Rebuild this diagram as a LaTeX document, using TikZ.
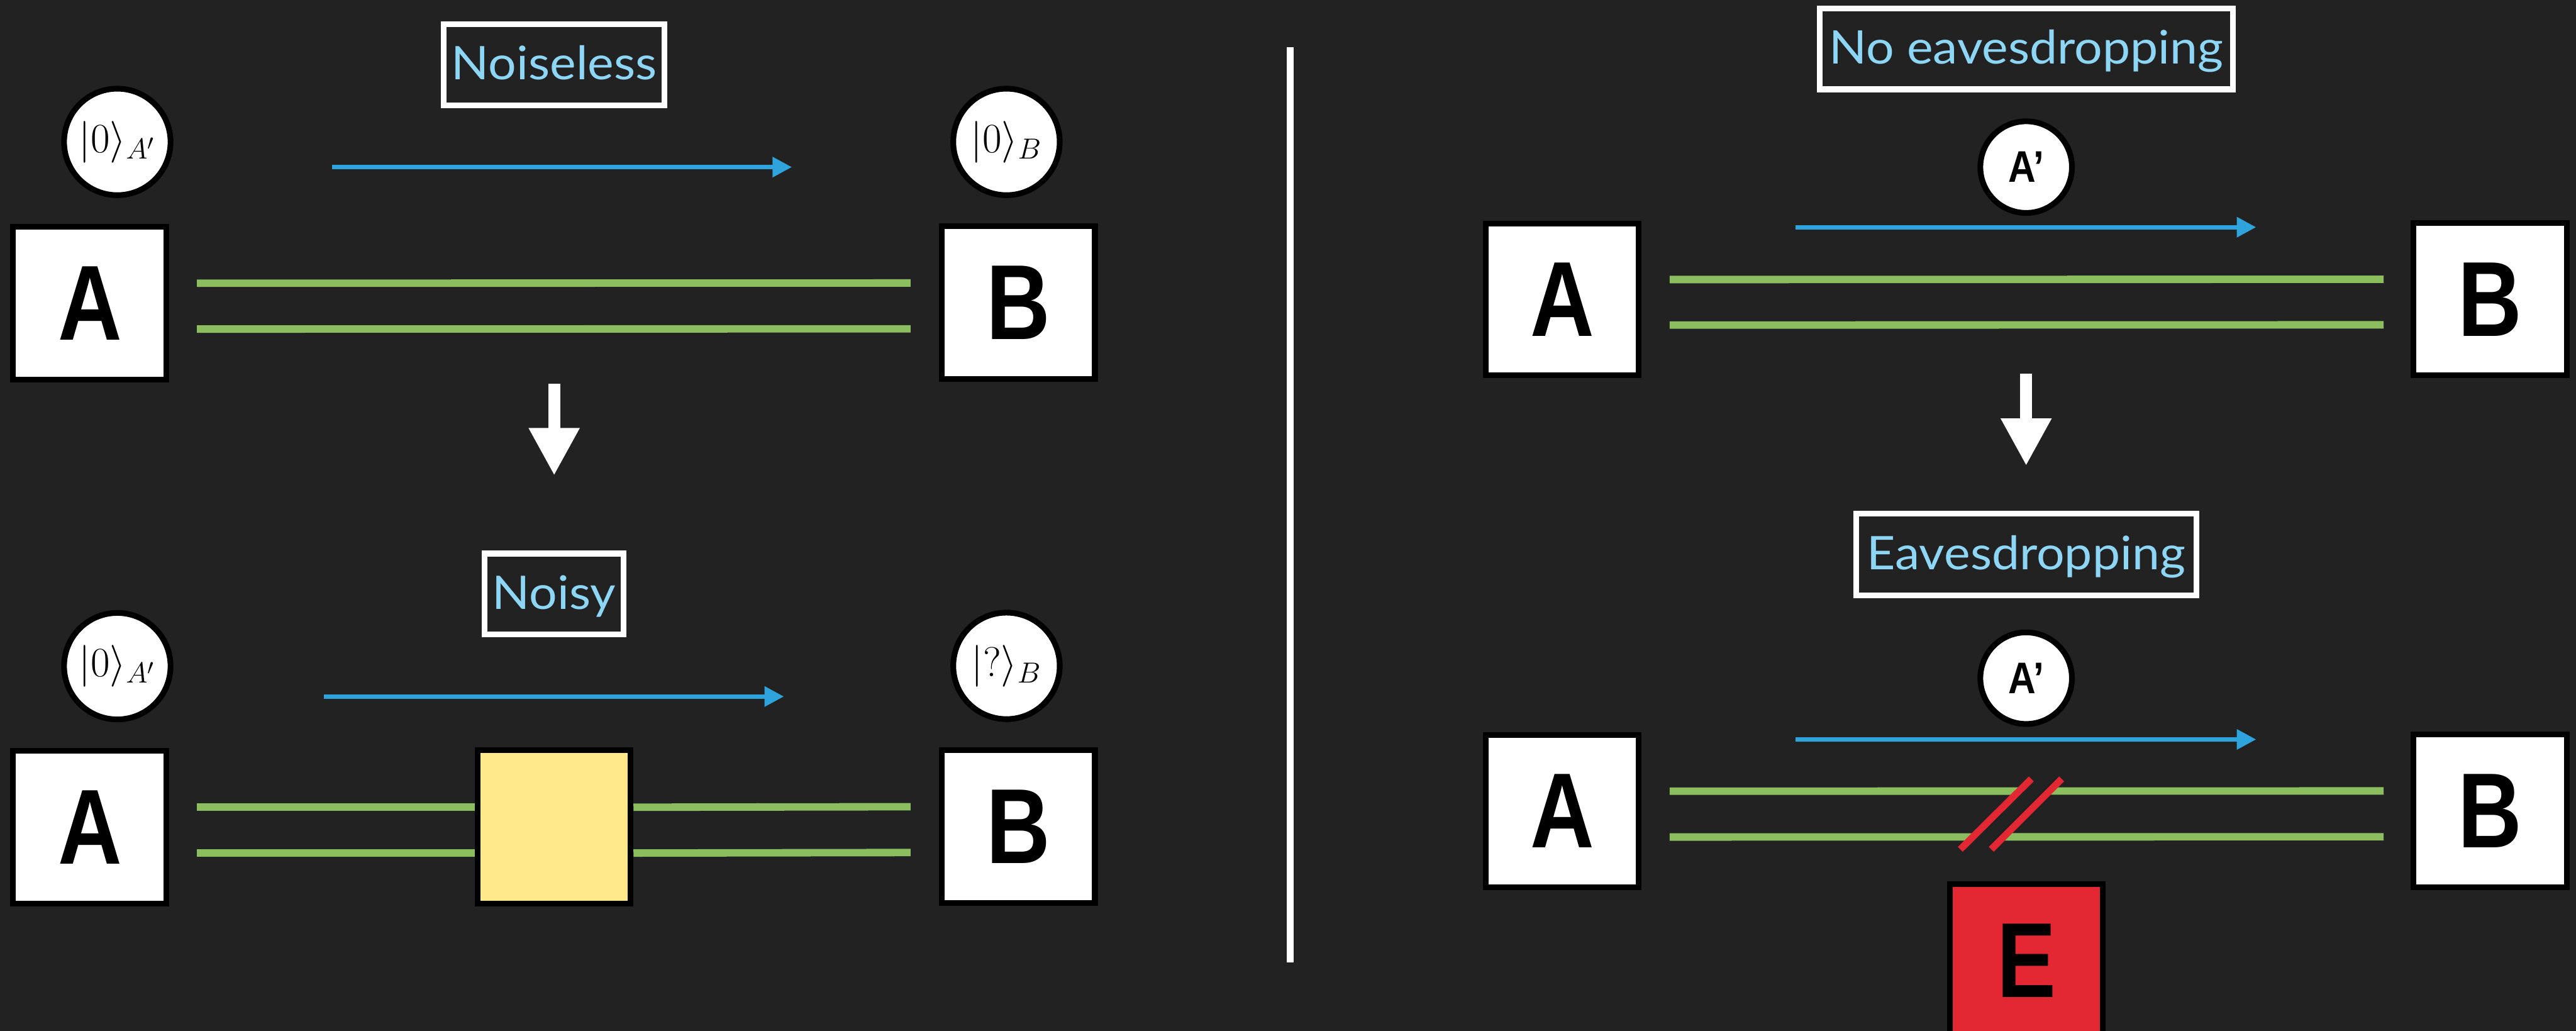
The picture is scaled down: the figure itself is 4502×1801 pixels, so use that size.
\documentclass[tikz,border=0pt]{standalone}
\usepackage{fontspec}
\usepackage{graphicx}
\setmainfont{Lato}
\newfontfamily\lsans{Liberation Sans}
\usetikzlibrary{arrows.meta}
\definecolor{bg}{RGB}{34,34,34}
\definecolor{wgreen}{RGB}{139,190,94}
\definecolor{flowblue}{RGB}{47,163,220}
\definecolor{labblue}{RGB}{142,214,246}
\definecolor{evered}{RGB}{227,39,51}
\definecolor{noisey}{RGB}{255,233,138}
\newcommand\partyletter[1]{\scalebox{0.83}[1]{\fontsize{53}{60}\selectfont\lsans\bfseries #1}}
\newcommand\smallletter[1]{\scalebox{0.86}[1]{\fontsize{22}{26}\selectfont\lsans\bfseries #1}}
\newcommand\labtext[1]{\scalebox{1.07}[1]{\fontsize{23}{27}\selectfont #1}}
\begin{document}
\begin{tikzpicture}[x=0.01cm,y=-0.01cm,
  party/.style={draw=black, fill=white, line width=0.1cm, inner sep=0pt,
    minimum width=2.68cm, minimum height=2.67cm},
  ketnode/.style={circle, draw=black, fill=white, line width=0.1cm, inner sep=0pt,
    minimum size=1.86cm, font=\fontsize{21}{25}\selectfont},
  primenode/.style={circle, draw=black, fill=white, line width=0.1cm, inner sep=0pt,
    minimum size=1.6cm},
  labelbox/.style={draw=white, line width=0.1cm, inner sep=0pt, text=labblue,
    text height=0.58cm, text depth=0.05cm},
  wire/.style={draw=wgreen, line width=0.13cm},
  flow/.style={draw=flowblue, line width=0.08cm, -{Triangle[length=0.34cm,width=0.34cm]}},
  stepdown/.style={draw=white, line width=0.21cm, -{Triangle[length=0.83cm,width=0.83cm]}},
  cut/.style={draw=evered, line width=0.12cm, line cap=butt},
]
\useasboundingbox (0,0) rectangle (4502,1801);
\clip (0,0) rectangle (4502,1801);
\fill[bg] (0,0) rectangle (4502,1801);

% ---------------- divider
\coordinate (divtop) at (2255,82);
\coordinate (divbot) at (2255,1682);
\draw[white, line width=0.12cm] (divtop) -- (divbot);

% ---------------- left top: noiseless
\node[labelbox, minimum width=3.85cm, minimum height=1.415cm] (lab1) at (968.5,113) {\labtext{Noiseless}};
\node[ketnode] (k1) at (205,248) {$|0\rangle_{A'}$};
\node[ketnode] (k2) at (1759,248) {$|0\rangle_{B}$};
\node[party] (A1) at (157,529.5) {\partyletter{A}};
\node[party] (B1) at (1779.5,529) {\partyletter{B}};
\coordinate (f1s) at (580,292);
\coordinate (f1e) at (1384,292);
\draw[flow] (f1s) -- (f1e);
\draw[wire, shorten <=0.48cm, shorten >=0.49cm] ([yshift=0.345cm]A1.east) -- ([yshift=0.345cm]B1.west);
\draw[wire, shorten <=0.48cm, shorten >=0.49cm] ([yshift=-0.455cm]A1.east) -- ([yshift=-0.455cm]B1.west);
\coordinate (d1s) at (968.5,671);
\coordinate (d1e) at (968.5,831);
\draw[stepdown] (d1s) -- (d1e);

% ---------------- left bottom: noisy
\node[labelbox, minimum width=2.43cm, minimum height=1.415cm] (lab2) at (968.5,1038) {\labtext{Noisy}};
\node[ketnode] (k3) at (205,1164) {$|0\rangle_{A'}$};
\node[ketnode] (k4) at (1759,1163.5) {$|?\rangle_{B}$};
\node[party] (A2) at (157,1445) {\partyletter{A}};
\node[party] (B2) at (1779.5,1444) {\partyletter{B}};
\node[party, fill=noisey, minimum width=2.67cm, minimum height=2.675cm] (N) at (968.5,1445) {};
\coordinate (f2s) at (566,1217);
\coordinate (f2e) at (1370,1217);
\draw[flow] (f2s) -- (f2e);
\draw[wire, shorten <=0.48cm] ([yshift=0.345cm]A2.east) -- ([yshift=0.345cm]N.west);
\draw[wire, shorten <=0.48cm] ([yshift=-0.455cm]A2.east) -- ([yshift=-0.455cm]N.west);
\draw[wire, shorten >=0.49cm] ([yshift=0.345cm]N.east) -- ([yshift=0.345cm]B2.west);
\draw[wire, shorten >=0.49cm] ([yshift=-0.455cm]N.east) -- ([yshift=-0.455cm]B2.west);

% ---------------- right top: no eavesdropping
\node[labelbox, minimum width=7.22cm, minimum height=1.41cm] (lab3) at (3541,85.5) {\labtext{No eavesdropping}};
\node[primenode] (p1) at (3541,292) {\smallletter{A’}};
\node[party, minimum width=2.67cm, minimum height=2.65cm] (A3) at (2730.5,523.5) {\partyletter{A}};
\node[party, minimum width=2.68cm, minimum height=2.66cm] (B3) at (4352,523) {\partyletter{B}};
\coordinate (f3s) at (3138,397);
\coordinate (f3e) at (3943,397);
\draw[flow] (f3s) -- (f3e);
\draw[wire, shorten <=0.49cm, shorten >=0.47cm] ([yshift=0.35cm]A3.east) -- ([yshift=0.35cm]B3.west);
\draw[wire, shorten <=0.49cm, shorten >=0.47cm] ([yshift=-0.445cm]A3.east) -- ([yshift=-0.445cm]B3.west);
\coordinate (d2s) at (3541,653);
\coordinate (d2e) at (3541,814);
\draw[stepdown] (d2s) -- (d2e);

% ---------------- right bottom: eavesdropping
\node[labelbox, minimum width=5.94cm, minimum height=1.43cm] (lab4) at (3541,968.5) {\labtext{Eavesdropping}};
\node[primenode] (p2) at (3541,1185) {\smallletter{A’}};
\node[party, minimum width=2.67cm, minimum height=2.66cm] (A4) at (2730.5,1417) {\partyletter{A}};
\node[party, minimum width=2.68cm, minimum height=2.67cm] (B4) at (4352,1416.5) {\partyletter{B}};
\coordinate (f4s) at (3138,1292);
\coordinate (f4e) at (3943,1292);
\draw[flow] (f4s) -- (f4e);
\draw[wire, shorten <=0.49cm, shorten >=0.47cm] ([yshift=0.345cm]A4.east) -- ([yshift=0.345cm]B4.west);
\draw[wire, shorten <=0.49cm, shorten >=0.47cm] ([yshift=-0.455cm]A4.east) -- ([yshift=-0.455cm]B4.west);
% cut marks
\coordinate (s1a) at (3426,1484);
\coordinate (s1b) at (3550,1361);
\coordinate (s2a) at (3480,1484);
\coordinate (s2b) at (3603,1361);
\fill[bg] (s1a) -- (s1b) -- (s2b) -- (s2a) -- cycle;
\draw[cut] (s1a) -- (s1b);
\draw[cut] (s2a) -- (s2b);
\node[party, fill=evered, anchor=north, minimum width=2.67cm, minimum height=3.68cm,
  text depth=1cm] (E) at (3541.5,1540) {\partyletter{E}};
\end{tikzpicture}
\end{document}
